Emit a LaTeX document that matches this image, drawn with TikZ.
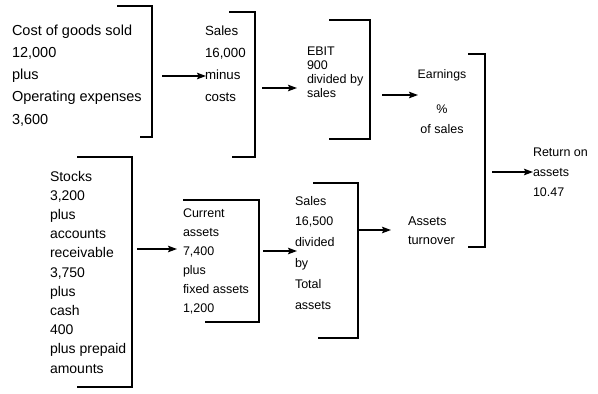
\documentclass[tikz,border=0pt]{standalone}
\usepackage{fontspec}
\setmainfont{Liberation Sans}
\usetikzlibrary{arrows.meta}
\newcommand{\mystack}[3]{\fontsize{#1}{#2}\selectfont\begin{tabular}[t]{@{}l@{}}#3\end{tabular}}
\newcommand{\mycstack}[3]{\fontsize{#1}{#2}\selectfont\begin{tabular}[t]{@{}c@{}}#3\end{tabular}}
\tikzset{
  txt/.style={inner sep=0pt, outer sep=0pt, anchor=base west},
  brk/.style={line width=1.8bp, line cap=butt, line join=miter},
  arr/.style={line width=1.3bp, -{Stealth[length=9bp,width=6.5bp,inset=1.5bp]}},
}
\begin{document}
\begin{tikzpicture}[x=1bp,y=-1bp]
\useasboundingbox (0,0) rectangle (598,393);

% texts
\node[txt] (t1) at (12,35) {\mystack{14.5bp}{22.3bp}{Cost of goods sold\\12,000\\plus\\Operating expenses\\3,600}};
\node[txt] (t2) at (205,35) {\mystack{13.3bp}{22.3bp}{Sales\\16,000\\minus\\costs}};
\node[txt] (t3) at (307,55) {\mystack{12.5bp}{14bp}{EBIT\\900\\divided by\\sales}};
\node[txt, anchor=base] (t4) at (442,78) {\fontsize{12.3bp}{14bp}\selectfont Earnings};
\node[txt, anchor=base] (t5) at (442,113) {\mycstack{12.5bp}{20bp}{\%\\of sales}};
\node[txt] (t6) at (533,156) {\mystack{12.5bp}{20.3bp}{Return on\\assets\\10.47}};
\node[txt] (t7) at (50,181) {\mystack{14bp}{19.2bp}{Stocks\\3,200\\plus\\accounts\\receivable\\3,750\\plus\\cash\\400\\plus prepaid\\amounts}};
\node[txt] (t8) at (183,217) {\mystack{12.5bp}{19bp}{Current\\assets\\7,400\\plus\\fixed assets\\1,200}};
\node[txt] (t9) at (295,205) {\mystack{12.5bp}{20.8bp}{Sales\\16,500\\divided\\by\\Total\\assets}};
\node[txt] (t10) at (408,225) {\mystack{12.8bp}{19bp}{Assets\\turnover}};

% brackets
\draw[brk] (117,6) -- (152,6) -- (152,137) -- (140,137);
\draw[brk] (229,12) -- (255,12) -- (255,157) -- (232,157);
\draw[brk] (329,20) -- (370,20) -- (370,139) -- (329,139);
\draw[brk] (468,54) -- (485,54) -- (485,247) -- (468,247);
\draw[brk] (313,183) -- (358,183) -- (358,338) -- (318,338);
\draw[brk] (77,157) -- (132,157) -- (132,387) -- (77,387);
\draw[brk] (183,200) -- (259,200) -- (259,322) -- (205,322);

% arrow end points
\coordinate (a1s) at (162,76);  \coordinate (a1e) at (206,76);
\coordinate (a2s) at (262,88);  \coordinate (a2e) at (297,88);
\coordinate (a3s) at (382,95);  \coordinate (a3e) at (418,95);
\coordinate (a4s) at (492,172); \coordinate (a4e) at (533,172);
\coordinate (a5s) at (359,230); \coordinate (a5e) at (391,230);
\coordinate (a6s) at (137,249); \coordinate (a6e) at (177,249);
\coordinate (a7s) at (263,251); \coordinate (a7e) at (297,251);

\draw[arr] (a1s) -- (a1e);
\draw[arr] (a2s) -- (a2e);
\draw[arr] (a3s) -- (a3e);
\draw[arr] (a4s) -- (a4e);
\draw[arr] (a5s) -- (a5e);
\draw[arr] (a6s) -- (a6e);
\draw[arr] (a7s) -- (a7e);
\end{tikzpicture}
\end{document}
